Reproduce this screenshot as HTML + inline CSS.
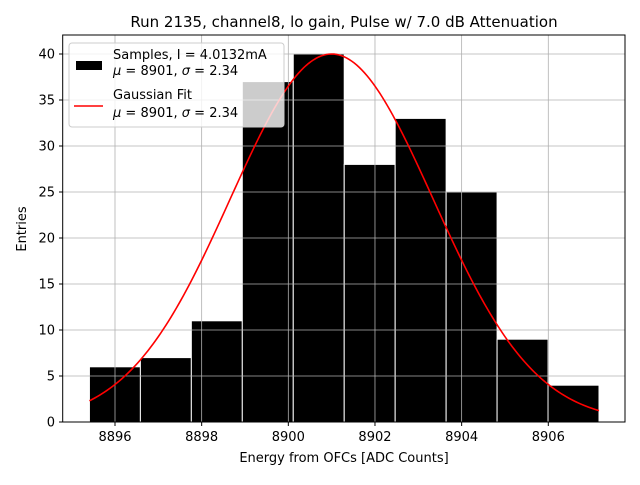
<!DOCTYPE html>
<html><head><meta charset="utf-8"><style>
html,body{margin:0;padding:0;background:#fff;}
svg text{font-family:"DejaVu Sans","Liberation Sans",sans-serif;fill:#000;}
</style></head><body>
<svg id="chart" width="640" height="480" viewBox="0 0 640 480" xmlns="http://www.w3.org/2000/svg">
<rect width="640" height="480" fill="#fff"/>
<g id="bars"></g>
<g id="grid"></g>
<path id="fit" fill="none" stroke="#ff0000" stroke-width="1.6"/>
<rect x="62.7" y="35" width="562.3" height="387" fill="none" stroke="#000" stroke-width="1"/>
<g id="ticks"></g>
<text x="344" y="27" text-anchor="middle" font-size="15">Run 2135, channel8, lo gain, Pulse w/ 7.0 dB Attenuation</text>
<text x="344" y="462" text-anchor="middle" font-size="13">Energy from OFCs [ADC Counts]</text>
<text x="26" y="229" text-anchor="middle" font-size="13" transform="rotate(-90 26 229)">Entries</text>
<g>
<rect x="69" y="43" width="215" height="84" rx="3" fill="#fff" fill-opacity="0.8" stroke="#ccc" stroke-width="1"/>
<rect x="76" y="61" width="26" height="9" fill="#000"/>
<text x="113" y="59" font-size="13">Samples, I = 4.0132mA</text>
<text x="113" y="75" font-size="13"><tspan font-style="italic">μ</tspan> = 8901, <tspan font-style="italic">σ</tspan> = 2.34</text>
<line x1="74" y1="106" x2="103" y2="106" stroke="#ff0000" stroke-width="1.6"/>
<text x="113" y="99" font-size="13">Gaussian Fit</text>
<text x="113" y="117" font-size="13"><tspan font-style="italic">μ</tspan> = 8901, <tspan font-style="italic">σ</tspan> = 2.34</text>
</g>
</svg>
<script>
const binStart = 8895.41;
const binWidth = 1.176;
const counts = [6, 7, 11, 37, 40, 28, 33, 25, 9, 4];
const fitMu = 8901;
const fitSigma = 2.34;
const fitAmp = 40;
const xTicks = [8896, 8898, 8900, 8902, 8904, 8906];
const yTicks = [0, 5, 10, 15, 20, 25, 30, 35, 40];

const NS = "http://www.w3.org/2000/svg";
function xs(v){ return 115 + (v - 8896) * 43.33; }
function ys(v){ return 422 - v * 9.2; }
function mk(tag, attrs, parent){
  const e = document.createElementNS(NS, tag);
  for (const k in attrs) e.setAttribute(k, attrs[k]);
  parent.appendChild(e); return e;
}
const grid = document.getElementById('grid');
const ticks = document.getElementById('ticks');
xTicks.forEach(t => {
  const g = mk('line', {x1: xs(t), x2: xs(t), y1: 35, y2: 422, stroke: '#b0b0b0', 'stroke-width': 0.8}, grid);
  
  
  const tk = mk('line', {x1: xs(t), x2: xs(t), y1: 422, y2: 426, stroke: '#000'}, ticks);
  
  
  const tx = mk('text', {x: xs(t), y: 441, 'text-anchor': 'middle', 'font-size': 13}, ticks);
  tx.textContent = t;
  
  
});
yTicks.forEach(t => {
  const g = mk('line', {x1: 62.7, x2: 625, y1: ys(t), y2: ys(t), stroke: '#b0b0b0', 'stroke-width': 0.8}, grid);
  
  
  const tk = mk('line', {x1: 59, x2: 62.7, y1: ys(t), y2: ys(t), stroke: '#000'}, ticks);
  
  
  const tx = mk('text', {x: 55, y: ys(t) + 4.5, 'text-anchor': 'end', 'font-size': 13}, ticks);
  tx.textContent = t;
  
  
});
const bars = document.getElementById('bars');
counts.forEach((c, i) => {
  const x0 = xs(binStart + i * binWidth), x1 = xs(binStart + (i + 1) * binWidth);
  const r = mk('rect', {x: x0, y: ys(c), width: x1 - x0, height: ys(0) - ys(c), fill: '#000', stroke: '#fff', 'stroke-width': 1}, bars);
  
  
});
let d = '';
const xEnd = binStart + counts.length * binWidth;
for (let i = 0; i <= 200; i++) {
  const x = binStart + (xEnd - binStart) * i / 200;
  const y = fitAmp * Math.exp(-Math.pow(x - fitMu, 2) / (2 * fitSigma * fitSigma));
  d += (i ? 'L' : 'M') + xs(x).toFixed(2) + ',' + ys(y).toFixed(2);
}
document.getElementById('fit').setAttribute('d', d);
</script>
</body></html>
